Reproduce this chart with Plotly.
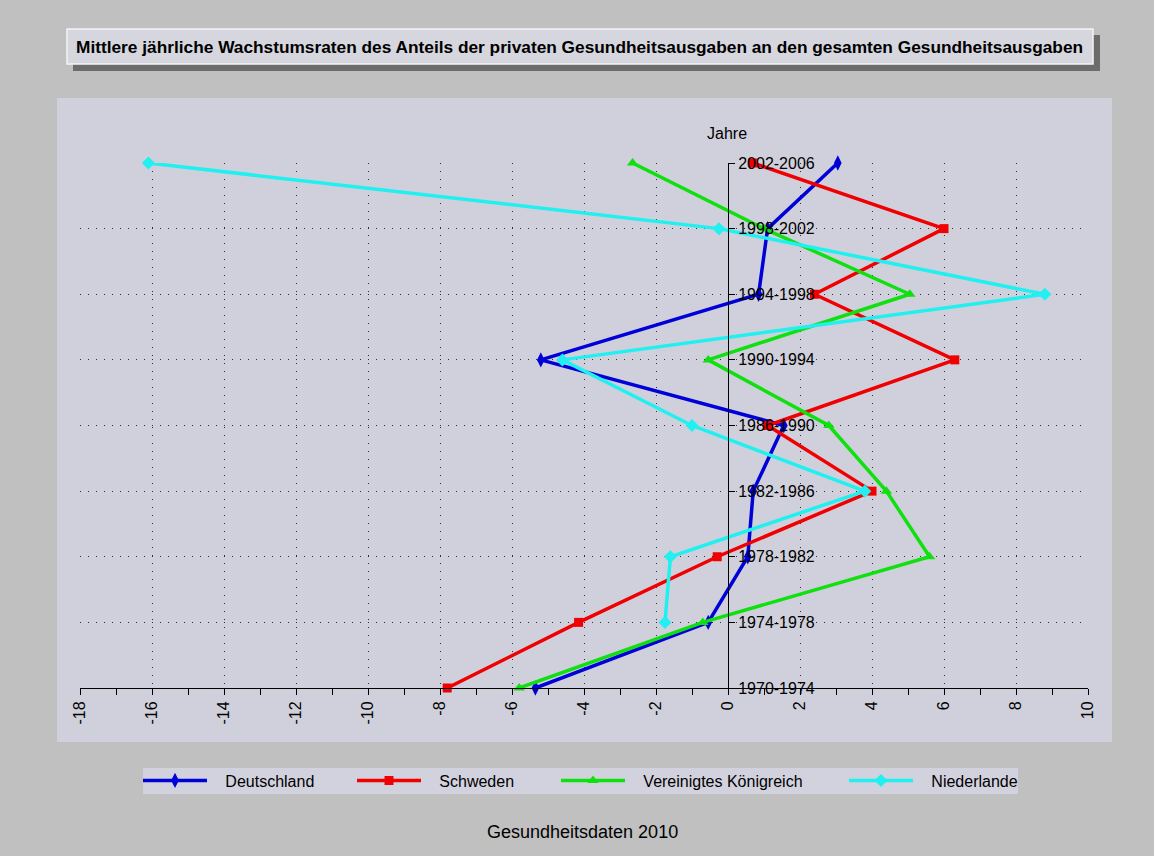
import plotly.graph_objects as go

# ---------------- data ----------------
categories = ["2002-2006", "1998-2002", "1994-1998", "1990-1994", "1986-1990",
              "1982-1986", "1978-1982", "1974-1978", "1970-1974"]
deutschland = [3.05, 1.1, 0.85, -5.2, 1.55, 0.7, 0.55, -0.55, -5.35]
schweden = [0.7, 6.0, 2.4, 6.3, 1.1, 4.0, -0.3, -4.15, -7.8]
vereinigtes_koenigreich = [-2.65, 1.0, 5.05, -0.55, 2.8, 4.4, 5.6, -0.7, -5.8]
niederlande = [-16.1, -0.25, 8.8, -4.6, -1.0, 3.8, -1.6, -1.75, None]

x_range = [-18, 10]
x_ticks = list(range(-18, 11, 2))
x_ticktext = [str(v) for v in x_ticks]

title_text = "Mittlere jährliche Wachstumsraten des Anteils der privaten Gesundheitsausgaben an den gesamten Gesundheitsausgaben"
footer_text = "Gesundheitsdaten 2010"
y_title = "Jahre"

series = [
    ("Deutschland", deutschland, "#0000d8", "diamond-tall", 11),
    ("Schweden", schweden, "#f00000", "square", 9),
    ("Vereinigtes Königreich", vereinigtes_koenigreich, "#10e010", "triangle-up", 10),
    ("Niederlande", niederlande, "#20f0f0", "diamond", 10),
]
legend_line_starts = [144, 358, 562, 850]  # px positions of legend entries

# ---------------- geometry ----------------
W, H = 1154, 856
PL, PR, PT, PB = 80, 1088, 163, 688  # plot area in px


def px(xp):
    return (xp - PL) / (PR - PL)


def py(yp):
    return (PB - yp) / (PB - PT)


FONT = "Liberation Sans, Arial, sans-serif"
NB = "\u00a0"

fig = go.Figure()
legend_layouts = {}
for i, (name, vals, color, sym, size) in enumerate(series):
    xs = [v for v in vals if v is not None]
    ys = [c for c, v in zip(categories, vals) if v is not None]
    lname = "legend" if i == 0 else f"legend{i + 1}"
    fig.add_trace(go.Scatter(
        x=xs, y=ys, name=NB * 3 + name, mode="lines+markers",
        line=dict(color=color, width=3.5),
        marker=dict(symbol=sym, size=size, color=color),
        cliponaxis=False, legend=lname,
    ))
    legend_layouts[lname] = dict(
        orientation="h", xref="paper", yref="paper",
        x=px(legend_line_starts[i] - 6), y=py(780.5), xanchor="left", yanchor="middle",
        bgcolor="rgba(0,0,0,0)", font=dict(family=FONT, size=16, color="#000000"),
        itemwidth=64, borderwidth=0,
    )

shapes = [
    # plot panel
    dict(type="rect", xref="paper", yref="paper", layer="below",
         x0=px(57), x1=px(1112), y0=py(98), y1=py(742),
         fillcolor="#d0d0dc", line=dict(width=0)),
    # title shadow
    dict(type="rect", xref="paper", yref="paper", layer="below",
         x0=px(73), x1=px(1100), y0=py(35), y1=py(71),
         fillcolor="#6c6c6c", line=dict(width=0)),
    # title box
    dict(type="rect", xref="paper", yref="paper", layer="below",
         x0=px(67), x1=px(1093), y0=py(29), y1=py(64),
         fillcolor="#d6d6de", line=dict(color="#f4f4f4", width=1.5)),
    # legend box
    dict(type="rect", xref="paper", yref="paper", layer="below",
         x0=px(143), x1=px(1018), y0=py(768), y1=py(794),
         fillcolor="#d2d2de", line=dict(width=0)),
]

annotations = [
    dict(text="<b>" + title_text + "</b>", xref="paper", yref="paper",
         x=px(579), y=py(46.5), showarrow=False, xanchor="center", yanchor="middle",
         font=dict(family=FONT, size=17.3, color="#000000")),
    dict(text=y_title, xref="paper", yref="paper", x=px(727), y=py(133),
         showarrow=False, xanchor="center", yanchor="middle",
         font=dict(family=FONT, size=16, color="#000000")),
    dict(text=footer_text, xref="paper", yref="paper", x=px(582), y=py(832),
         showarrow=False, xanchor="center", yanchor="middle",
         font=dict(family=FONT, size=18, color="#000000")),
]

fig.update_layout(
    width=W, height=H,
    margin=dict(l=PL, r=W - PR, t=PT, b=H - PB, pad=0),
    paper_bgcolor="#c0c0c0",
    plot_bgcolor="#ffffff",
    font=dict(family=FONT, size=15, color="#000000"),
    shapes=shapes,
    annotations=annotations,
    showlegend=True,
    xaxis=dict(range=x_range, tickvals=x_ticks, ticktext=x_ticktext, tickangle=-90,
               showgrid=True, gridcolor="#303030", griddash="1px,7px", gridwidth=1,
               zeroline=True, zerolinecolor="#000000", zerolinewidth=1,
               showline=True, linecolor="#000000", linewidth=1,
               ticks="outside", ticklen=6, tickcolor="#000000",
               minor=dict(dtick=1, ticks="outside", ticklen=6, tickcolor="#000000"),
               tickfont=dict(family=FONT, size=16), fixedrange=True),
    yaxis=dict(type="category", categoryorder="array",
               categoryarray=list(reversed(categories)),
               range=[0, len(categories) - 1],
               anchor="free", position=(0 - x_range[0]) / (x_range[1] - x_range[0]),
               side="right", showline=True, linecolor="#000000", linewidth=1,
               ticks="outside", ticklen=6, tickcolor="#000000",
               showgrid=True, gridcolor="#303030", griddash="1px,7px", gridwidth=1,
               zeroline=False, tickfont=dict(family=FONT, size=16), fixedrange=True),
    **legend_layouts,
)

fig.write_html("out.html", config={"displayModeBar": False},
               post_script="document.body.style.margin='0';")
